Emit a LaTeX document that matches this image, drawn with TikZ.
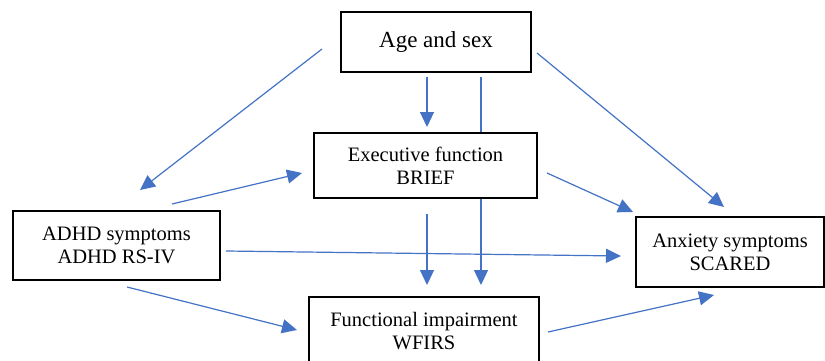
\documentclass[tikz,border=0pt]{standalone}
\usepackage{fontspec}
\setmainfont{Liberation Serif}
\usetikzlibrary{arrows.meta,backgrounds}
\definecolor{arrowblue}{HTML}{4472C4}
\tikzset{
  box/.style={draw=black, line width=1.8pt, fill=white, align=center, inner sep=0pt,
    font=\fontsize{20.5}{23}\selectfont},
  link/.style={draw=arrowblue, line width=1.2pt, -{Triangle[length=15pt,width=14pt]}}
}
\begin{document}
\begin{tikzpicture}[x=1pt,y=-1pt]
\path[use as bounding box, clip] (0,0) rectangle (825,361);
% boxes
\node[box, minimum width=190, minimum height=60, font=\fontsize{23}{26}\selectfont] (age) at (436,42) {Age and sex};
\node[box, minimum width=223, minimum height=65] (ef) at (425.5,165.5) {Executive function\\BRIEF};
\node[box, minimum width=207, minimum height=69] (adhd) at (116.5,245.5) {ADHD symptoms\\ADHD RS-IV};
\node[box, minimum width=188, minimum height=70] (anx) at (730,252) {Anxiety symptoms\\SCARED};
\node[box, minimum width=230, minimum height=68, anchor=north] (fi) at (424,296) {Functional impairment\\WFIRS};
% free ends of connectors
\coordinate (a1s) at (322,49);  \coordinate (a1e) at (140,190);
\coordinate (a2s) at (427,77);  \coordinate (a2e) at (427,127);
\coordinate (a3s) at (481,77);  \coordinate (a3e) at (481,285);
\coordinate (a4s) at (537,53);  \coordinate (a4e) at (724,207);
\coordinate (a5s) at (172,204); \coordinate (a5e) at (302,173);
\coordinate (a6s) at (547,173); \coordinate (a6e) at (633,212);
\coordinate (a7s) at (226,251); \coordinate (a7e) at (621,256);
\coordinate (a8s) at (427,214); \coordinate (a8e) at (427,285);
\coordinate (a9s) at (127,287); \coordinate (a9e) at (297,330);
\coordinate (a10s) at (548,332); \coordinate (a10e) at (714,295);
\begin{pgfonlayer}{background}
\fill[white] (0,0) rectangle (825,361);
\draw[link] (a1s) -- (a1e);
\draw[link] (a2s) -- (a2e);
\draw[link] (a3s) -- (a3e);
\draw[link] (a4s) -- (a4e);
\draw[link] (a5s) -- (a5e);
\draw[link] (a6s) -- (a6e);
\draw[link] (a7s) -- (a7e);
\draw[link] (a8s) -- (a8e);
\draw[link] (a9s) -- (a9e);
\draw[link] (a10s) -- (a10e);
\end{pgfonlayer}
\end{tikzpicture}
\end{document}
